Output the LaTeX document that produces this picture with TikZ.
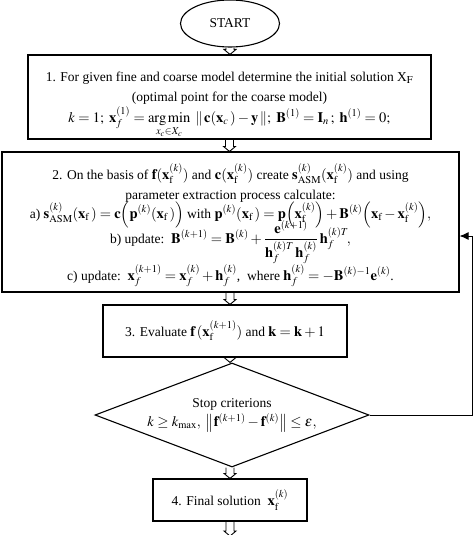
\documentclass[tikz,border=0pt]{standalone}
\usepackage{mathptmx}
\usepackage[no-math]{fontspec}
\setmainfont{Liberation Serif}
\DeclareMathSizes{13.5}{14.5}{10.5}{8.5}
\usetikzlibrary{shapes.geometric,calc,arrows.meta}
\tikzset{
  txt/.style={font=\fontsize{13.5}{19.5}\selectfont},
  boxnode/.style={txt, draw, line width=1.1pt, rectangle, inner sep=0pt, align=center},
  hollow/.style={line width=0.9pt, line join=miter},
  fback/.style={line width=1pt, -{Latex[length=9pt,width=8pt]}},
}
\newcommand\harrow[2]{\draw[hollow] let \p1=#1, \p2=#2 in
  (\x1-4pt,\y1) -- (\x1-4pt,\y2+5pt) -- (\x1-6pt,\y2+5pt) -- (\x1,\y2)
  -- (\x1+6pt,\y2+5pt) -- (\x1+4pt,\y2+5pt) -- (\x1+4pt,\y1);}
\begin{document}
\begin{tikzpicture}[x=1pt,y=-1pt]
\useasboundingbox (0,0) rectangle (474,535);
\coordinate (axis) at (230,0);
\node[txt, draw, ellipse, line width=1.1pt, minimum width=99pt, minimum height=47pt, inner sep=0pt] (start) at (230,23.5) {START};
\node[boxnode, minimum width=403pt, minimum height=84pt] (b1) at (229.5,97)
{1. For given fine and coarse model determine the initial solution X$_{\mathrm{F}}$\\[0.5pt]
(optimal point for the coarse model)\\[1.5pt]
\smash{$k=1;\ \mathbf{x}_f^{(1)}=\mathop{\mathrm{arg\,min}}\limits_{x_c\in X_c}\;\|\,\mathbf{c}(\mathbf{x}_c\,)-\mathbf{y}\,\|;\ \mathbf{B}^{(1)}=\mathbf{I}_n\,;\ \mathbf{h}^{(1)}=0;$}};
\node[boxnode, minimum width=457pt, minimum height=140pt] (b2) at (230.5,222)
{2. On the basis of $\mathbf{f}(\mathbf{x}_{\mathrm{f}}^{(k)})$ and $\mathbf{c}(\mathbf{x}_{\mathrm{f}}^{(k)})$ create $\mathbf{s}_{\mathrm{ASM}}^{(k)}(\mathbf{x}_{\mathrm{f}}^{(k)})$ and using\\[0.5pt]
parameter extraction process calculate:\\[-0.5pt]
\smash{a) $\mathbf{s}_{\mathrm{ASM}}^{(k)}(\mathbf{x}_{\mathrm{f}}\,)=\mathbf{c}\Bigl(\mathbf{p}^{(k)}(\mathbf{x}_{\mathrm{f}}\,)\Bigr)$ with $\mathbf{p}^{(k)}(\mathbf{x}_{\mathrm{f}}\,)=\mathbf{p}\Bigl(\mathbf{x}_{\mathrm{f}}^{(k)}\Bigr)+\mathbf{B}^{(k)}\Bigl(\mathbf{x}_{\mathrm{f}}-\mathbf{x}_{\mathrm{f}}^{(k)}\Bigr),$}\\[5.5pt]
\smash{b) update:\ \ $\displaystyle\mathbf{B}^{(k+1)}=\mathbf{B}^{(k)}+\frac{\mathbf{e}^{(k+1)}}{\mathbf{h}_f^{(k)T}\,\mathbf{h}_f^{(k)}}\,\mathbf{h}_f^{(k)T}\!,$}\\[17.5pt]
\smash{c) update:\ \ $\mathbf{x}_f^{(k+1)}=\mathbf{x}_f^{(k)}+\mathbf{h}_f^{(k)}$,\ \ where\ $\mathbf{h}_f^{(k)}=-\mathbf{B}^{(k)-1}\mathbf{e}^{(k)}$.}};
\node[boxnode, minimum width=244pt, minimum height=52pt] (b3) at (225,331)
{3. Evaluate $\mathbf{f}\,(\mathbf{x}_{\mathrm{f}}^{(k+1)})$ and $\mathbf{k}=\mathbf{k}+1$};
\node[txt, draw, diamond, line width=1.1pt, aspect=2.63, minimum width=274pt, minimum height=104pt, inner sep=0pt, align=center] (dia) at (232,415)
{Stop criterions\\ $k\ge k_{\max},\ \left\|\mathbf{f}^{(k+1)}-\mathbf{f}^{(k)}\right\|\le\varepsilon,$};
\node[boxnode, minimum width=154pt, minimum height=42pt] (b4) at (230,500)
{4. Final solution $\;\mathbf{x}_{\mathrm{f}}^{(k)}$};
\coordinate (end) at (230,536);
\harrow{(start.south)}{(b1.north)}
\harrow{(b1.south)}{(b2.north -| b1.south)}
\harrow{(b2.south -| axis)}{(b3.north -| axis)}
\harrow{(b3.south -| axis)}{(dia.north -| axis)}
\harrow{(dia.south -| axis)}{(b4.north)}
\harrow{(b4.south)}{(end)}
\coordinate (fb) at (472,236);
\draw[fback] (dia.east) -| (fb) -- (fb -| b2.east);
\end{tikzpicture}
\end{document}
